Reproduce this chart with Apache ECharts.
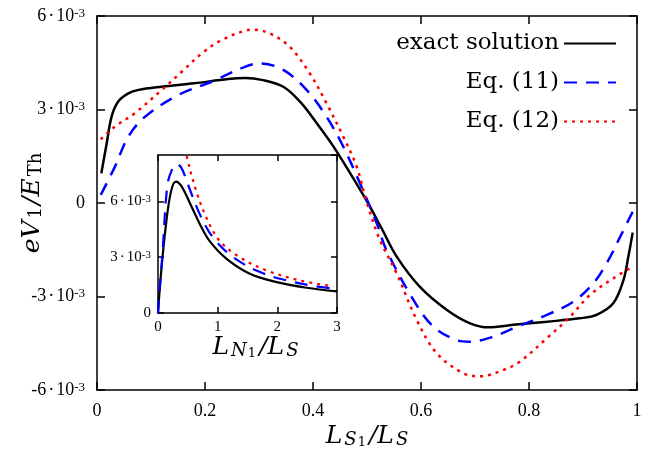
<!DOCTYPE html>
<html>
<head>
<meta charset="utf-8">
<script src="https://cdn.jsdelivr.net/npm/echarts@6/dist/echarts.min.js"></script>
<style>
  html, body { margin: 0; padding: 0; background: #fff; }
  #chart { width: 664px; height: 458px; }
</style>
</head>
<body>
<div id="chart"></div>
<script>
// main panel: x = L_S1/L_S, values in units of 10^-3
var exactX = [0.008, 0.018, 0.027, 0.039, 0.058, 0.077, 0.12, 0.18, 0.243, 0.275, 0.305, 0.345, 0.376, 0.407, 0.438, 0.469, 0.5, 0.527, 0.555, 0.598, 0.648, 0.691, 0.725, 0.771, 0.833, 0.894, 0.925, 0.956, 0.975, 0.984, 0.992];
var exactY = [0.95, 1.92, 2.77, 3.25, 3.52, 3.63, 3.73, 3.84, 3.98, 4.01, 3.95, 3.73, 3.25, 2.56, 1.81, 0.95, 0.05, -0.81, -1.72, -2.69, -3.43, -3.86, -3.99, -3.91, -3.81, -3.70, -3.59, -3.22, -2.47, -1.72, -0.95];

var eq11X = [0.007, 0.033, 0.058, 0.089, 0.15, 0.212, 0.274, 0.302, 0.345, 0.388, 0.425, 0.456, 0.487, 0.518, 0.536, 0.586, 0.623, 0.666, 0.69, 0.734, 0.771, 0.833, 0.882, 0.919, 0.944, 0.969, 0.992];
var eq11Y = [0.26, 1.16, 2.13, 2.77, 3.46, 3.89, 4.37, 4.48, 4.27, 3.63, 2.77, 1.81, 0.63, -0.65, -1.51, -3.11, -3.97, -4.40, -4.45, -4.29, -4.02, -3.59, -3.17, -2.58, -1.93, -1.08, -0.28];

var eq12X = [0.007, 0.033, 0.07, 0.12, 0.157, 0.194, 0.231, 0.274, 0.29, 0.32, 0.357, 0.394, 0.425, 0.456, 0.481, 0.5, 0.524, 0.555, 0.592, 0.629, 0.678, 0.71, 0.752, 0.783, 0.833, 0.876, 0.913, 0.956, 0.992];
var eq12Y = [2.04, 2.45, 2.88, 3.63, 4.21, 4.80, 5.23, 5.53, 5.56, 5.44, 5.01, 4.16, 3.20, 2.13, 1.16, 0.0, -1.19, -2.26, -3.75, -4.82, -5.46, -5.56, -5.36, -5.09, -4.34, -3.65, -2.95, -2.42, -2.04];

// inset: x = L_N1/L_S, values in units of 10^-3
var inExactX = [0, 0.05, 0.135, 0.22, 0.30, 0.39, 0.53, 0.70, 0.86, 1.15, 1.54, 1.99, 2.49, 3.0];
var inExactY = [0, 2.11, 4.79, 6.57, 7.07, 6.84, 5.95, 4.79, 3.89, 2.91, 2.11, 1.66, 1.36, 1.16];
var in11X = [0, 0.078, 0.16, 0.25, 0.31, 0.39, 0.50, 0.70, 0.92, 1.26, 1.71, 2.16, 2.66, 2.97];
var in11Y = [0, 3.36, 6.93, 7.82, 8.0, 7.82, 6.93, 5.32, 4.07, 3.0, 2.2, 1.75, 1.43, 1.31];
var in12X = [0.36, 0.42, 0.48, 0.64, 0.81, 1.03, 1.37, 1.82, 2.38, 2.94];
var in12Y = [11.0, 9.6, 8.46, 6.57, 5.14, 3.89, 3.0, 2.29, 1.75, 1.43];

var names = ['exact solution', 'Eq. (11)', 'Eq. (12)'];
var font = 'Liberation Serif';
var wide = 'DejaVu Serif';

function pairs(xs, ys) {
  return xs.map(function (x, i) { return [x, ys[i]]; });
}

function sciLabel(v) {
  if (v === 0) return '0';
  return '{m|' + v + '}{d|·}{m|10}{s|-3}';
}

function labelRich(size) {
  return {
    m: { fontFamily: font, fontSize: size, color: '#000', verticalAlign: 'bottom' },
    d: { fontFamily: font, fontSize: size, color: '#000', verticalAlign: 'bottom', padding: [0, 2, 0, 2] },
    s: { fontFamily: font, fontSize: Math.round(size * 0.72), color: '#000', verticalAlign: 'top' }
  };
}

// rich styles for the math-like axis names
function mathRich(size) {
  return {
    i: { fontFamily: wide, fontStyle: 'italic', fontSize: size, color: '#000', verticalAlign: 'top', padding: [0, 2, 0, 1] },
    sub: { fontFamily: wide, fontStyle: 'italic', fontSize: Math.round(size * 0.72), color: '#000', verticalAlign: 'bottom', padding: [0, 1, 0, 0] },
    up: { fontFamily: wide, fontSize: Math.round(size * 0.72), color: '#000', verticalAlign: 'bottom', padding: [0, 1, 0, 0] },
    sub2: { fontFamily: wide, fontSize: Math.round(size * 0.52), color: '#000', verticalAlign: 'bottom', padding: [8, 2, 0, 0] }
  };
}

function axLine() {
  return { show: true, onZero: false, lineStyle: { color: '#000', width: 1.5 } };
}

function ticks(len) {
  return { show: true, inside: true, length: len, lineStyle: { color: '#000', width: 1.5 } };
}

function mirrorAxis(extra) {
  return Object.assign({
    type: 'value',
    axisLine: axLine(),
    axisLabel: { show: false },
    splitLine: { show: false }
  }, extra);
}

var myChart = echarts.init(document.getElementById('chart'));

var styles = [
  { color: '#000', width: 2.5, type: 'solid' },
  { color: '#0000ff', width: 2.5, type: [13, 9] },
  { color: '#ff0000', width: 2.5, type: [3, 5] }
];

var option = {
  animation: false,
  backgroundColor: '#fff',
  legend: {
    data: names,
    orient: 'vertical',
    align: 'right',
    right: 42,
    top: 27,
    itemWidth: 52,
    itemHeight: 22,
    itemGap: 16,
    itemStyle: { opacity: 0 },
    textStyle: { fontFamily: wide, fontSize: 23, color: '#000' }
  },
  grid: [
    { left: 97, right: 27, top: 16, bottom: 68, outerBoundsMode: 'none' },
    { left: 158, right: 327, top: 155, bottom: 145, outerBoundsMode: 'none' }
  ],
  xAxis: [
    {
      type: 'value', gridIndex: 0, min: 0, max: 1, interval: 0.2,
      axisLine: axLine(),
      axisTick: ticks(8),
      axisLabel: { color: '#000', fontFamily: font, fontSize: 18, margin: 12 },
      splitLine: { show: false },
      name: '{i|L}{sub|S}{sub2|1}{i|/L}{sub|S}',
      nameLocation: 'middle',
      nameGap: 34,
      nameMoveOverlap: false,
      nameTextStyle: { rich: mathRich(25) }
    },
    mirrorAxis({ gridIndex: 0, position: 'top', min: 0, max: 1, interval: 0.2, axisTick: ticks(8) }),
    {
      type: 'value', gridIndex: 1, min: 0, max: 3, interval: 1,
      axisLine: axLine(),
      axisTick: ticks(6),
      axisLabel: { color: '#000', fontFamily: font, fontSize: 15, margin: 7 },
      splitLine: { show: false },
      name: '{i|L}{sub|N}{sub2|1}{i|/L}{sub|S}',
      nameLocation: 'middle',
      nameGap: 22,
      nameMoveOverlap: false,
      nameTextStyle: { rich: mathRich(25), padding: [0, 0, 0, 16] }
    },
    mirrorAxis({ gridIndex: 1, position: 'top', min: 0, max: 3, interval: 1, axisTick: ticks(6) })
  ],
  yAxis: [
    {
      type: 'value', gridIndex: 0, min: -6, max: 6, interval: 3,
      axisLine: axLine(),
      axisTick: ticks(8),
      axisLabel: { color: '#000', fontFamily: font, fontSize: 18, margin: 12, formatter: sciLabel, rich: labelRich(18) },
      splitLine: { show: false },
      name: '{i|eV}{up|1}{i|/E}{up|Th}',
      nameLocation: 'middle',
      nameRotate: 90,
      nameGap: 52,
      nameMoveOverlap: false,
      nameTextStyle: { rich: mathRich(25) }
    },
    mirrorAxis({ gridIndex: 0, position: 'right', min: -6, max: 6, interval: 3, axisTick: ticks(8) }),
    {
      type: 'value', gridIndex: 1, min: 0, max: 8.5, interval: 3,
      axisLine: axLine(),
      axisTick: ticks(6),
      axisLabel: { color: '#000', fontFamily: font, fontSize: 15, margin: 7, showMaxLabel: false, formatter: sciLabel, rich: labelRich(15) },
      splitLine: { show: false }
    },
    mirrorAxis({ gridIndex: 1, position: 'right', min: 0, max: 8.5, interval: 3, axisTick: ticks(6) })
  ],
  series: [
    { name: names[0], type: 'line', xAxisIndex: 0, yAxisIndex: 0, data: pairs(exactX, exactY) },
    { name: names[1], type: 'line', xAxisIndex: 0, yAxisIndex: 0, data: pairs(eq11X, eq11Y) },
    { name: names[2], type: 'line', xAxisIndex: 0, yAxisIndex: 0, data: pairs(eq12X, eq12Y) },
    { name: names[0], type: 'line', xAxisIndex: 2, yAxisIndex: 2, data: pairs(inExactX, inExactY) },
    { name: names[1], type: 'line', xAxisIndex: 2, yAxisIndex: 2, data: pairs(in11X, in11Y) },
    { name: names[2], type: 'line', xAxisIndex: 2, yAxisIndex: 2, data: pairs(in12X, in12Y) }
  ].map(function (s, i) {
    s.symbol = 'none';
    s.smooth = 0.35;
    s.clip = true;
    s.lineStyle = Object.assign({}, styles[i % 3], i >= 3 ? { width: 2.2 } : {});
    s.itemStyle = { color: styles[i % 3].color };
    return s;
  })
};

option && myChart.setOption(option);
</script>
</body>
</html>
